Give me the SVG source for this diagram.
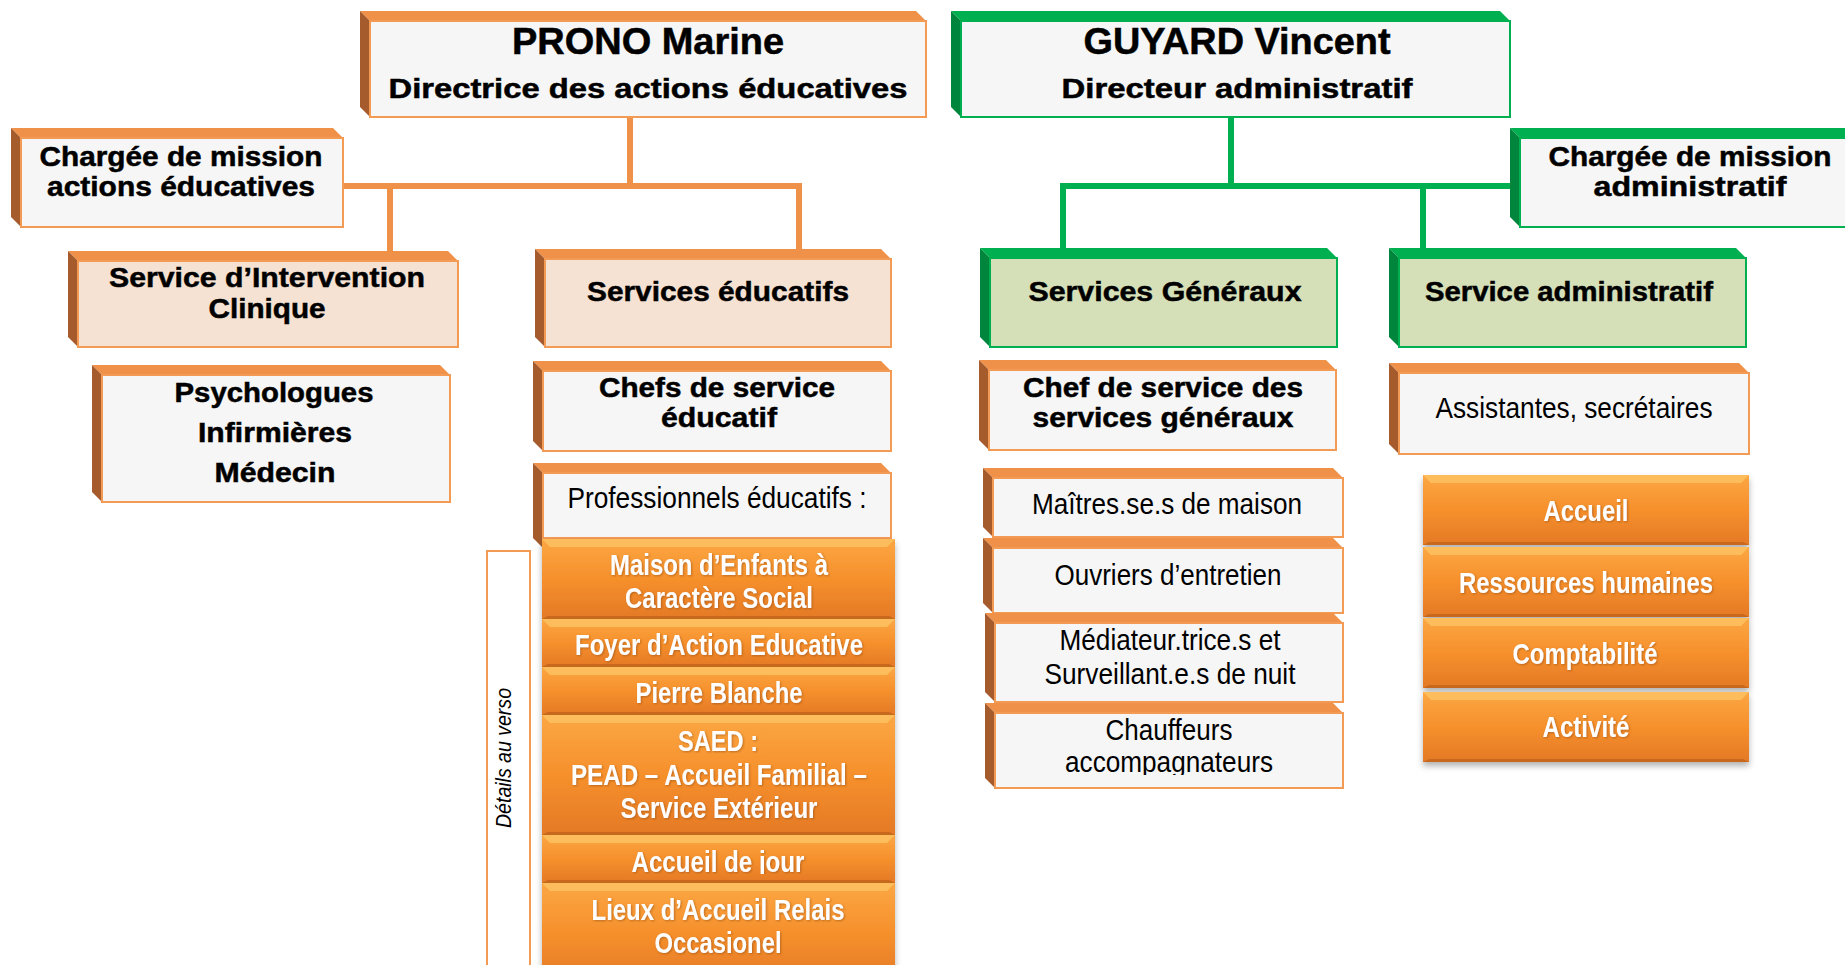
<svg xmlns="http://www.w3.org/2000/svg" width="1845" height="965" viewBox="0 0 1845 965">
<defs>
<style>
.bo{fill:#f0914a}.so{fill:#a55b2b}
.bg{fill:#00b050}.sg{fill:#00853d}
.f{fill:#f6f6f6;stroke:#f39a55;stroke-width:2}
.fp{fill:#f5e2d2;stroke:#f39a55;stroke-width:2}
.fg{fill:#d5dfb8;stroke:#00b050;stroke-width:2}
.fw{fill:#f6f6f6;stroke:#00b050;stroke-width:2}
.tb{font-family:"Liberation Sans",Arial,sans-serif;font-weight:bold;fill:#000;stroke:#000;stroke-width:0.5;text-anchor:middle;font-size:28px}
.th{font-size:36px}
.tn{font-family:"Liberation Sans Narrow","Arial Narrow","Liberation Sans",sans-serif;fill:#000;text-anchor:middle;font-size:30px}
.tw{font-family:"Liberation Sans Narrow","Arial Narrow","Liberation Sans",sans-serif;font-weight:bold;fill:#fff;text-anchor:middle;font-size:30px;filter:url(#ts)}
.btn{fill:url(#og)}
.bev{fill:#fdbd5c}
.bevd{fill:#c8671f}
.co{fill:none;stroke:#f0914a;stroke-width:6}
.cg{fill:none;stroke:#00b050;stroke-width:6}
</style>
<linearGradient id="og" x1="0" y1="0" x2="0" y2="1">
<stop offset="0" stop-color="#fba743"/>
<stop offset="0.5" stop-color="#f6902c"/>
<stop offset="1" stop-color="#e47926"/>
</linearGradient>
<filter id="ts" x="-10%" y="-30%" width="120%" height="160%">
<feDropShadow dx="1" dy="1" stdDeviation="0.8" flood-color="#8a4a10" flood-opacity="0.55"/>
</filter>
<filter id="sh" x="-5%" y="-5%" width="110%" height="115%">
<feDropShadow dx="0" dy="4" stdDeviation="3" flood-color="#000" flood-opacity="0.3"/>
</filter>
<clipPath id="clipChauf"><rect x="990" y="700" width="360" height="75"/></clipPath>
<clipPath id="clipJour"><rect x="540" y="835" width="360" height="39"/></clipPath>
</defs>
<rect width="1845" height="965" fill="#fff"/>

<g id="connectors">
<path class="co" d="M630 117V186M343 186H802M390 186V251M799 186V249"/>
<path class="cg" d="M1231 117V186M1060 186H1512M1063 186V248M1423 186V248"/>
</g>

<g id="n-prono">
<polygon class="bo" points="370,21 926,21 916,11 360,11"/>
<polygon class="so" points="370,21 360,11 360,107 370,117"/>
<rect class="f" x="370" y="21" width="556" height="96"/>
<text class="tb th" x="648" y="54" textLength="272" lengthAdjust="spacingAndGlyphs">PRONO Marine</text>
<text class="tb" x="648" y="98" textLength="519" lengthAdjust="spacingAndGlyphs">Directrice des actions éducatives</text>
</g>

<g id="n-guyard">
<polygon class="bg" points="961,21 1510,21 1500,11 951,11"/>
<polygon class="sg" points="961,21 951,11 951,107 961,117"/>
<rect class="fw" x="961" y="21" width="549" height="96"/>
<text class="tb th" x="1237" y="54" textLength="307" lengthAdjust="spacingAndGlyphs">GUYARD Vincent</text>
<text class="tb" x="1237" y="98" textLength="351" lengthAdjust="spacingAndGlyphs">Directeur administratif</text>
</g>

<g id="n-cm-educ">
<polygon class="bo" points="21,138 343,138 333,128 11,128"/>
<polygon class="so" points="21,138 11,128 11,217 21,227"/>
<rect class="f" x="21" y="138" width="322" height="89"/>
<text class="tb" x="181" y="166" textLength="283" lengthAdjust="spacingAndGlyphs">Chargée de mission</text>
<text class="tb" x="181" y="196" textLength="268" lengthAdjust="spacingAndGlyphs">actions éducatives</text>
</g>

<g id="n-cm-admin">
<polygon class="bg" points="1520,138 1860,138 1850,128 1510,128"/>
<polygon class="sg" points="1520,138 1510,128 1510,217 1520,227"/>
<rect class="fw" x="1520" y="138" width="340" height="89"/>
<text class="tb" x="1690" y="166" textLength="283" lengthAdjust="spacingAndGlyphs">Chargée de mission</text>
<text class="tb" x="1690" y="196" textLength="193" lengthAdjust="spacingAndGlyphs">administratif</text>
</g>

<g id="n-sic">
<polygon class="bo" points="78,261 458,261 448,251 68,251"/>
<polygon class="so" points="78,261 68,251 68,337 78,347"/>
<rect class="fp" x="78" y="261" width="380" height="86"/>
<text class="tb" x="267" y="287" textLength="316" lengthAdjust="spacingAndGlyphs">Service d’Intervention</text>
<text class="tb" x="267" y="318" textLength="117" lengthAdjust="spacingAndGlyphs">Clinique</text>
</g>

<g id="n-se">
<polygon class="bo" points="545,259 891,259 881,249 535,249"/>
<polygon class="so" points="545,259 535,249 535,337 545,347"/>
<rect class="fp" x="545" y="259" width="346" height="88"/>
<text class="tb" x="718" y="301" textLength="262" lengthAdjust="spacingAndGlyphs">Services éducatifs</text>
</g>

<g id="n-sg">
<polygon class="bg" points="990,258 1337,258 1327,248 980,248"/>
<polygon class="sg" points="990,258 980,248 980,337 990,347"/>
<rect class="fg" x="990" y="258" width="347" height="89"/>
<text class="tb" x="1165" y="301" textLength="273" lengthAdjust="spacingAndGlyphs">Services Généraux</text>
</g>

<g id="n-sa">
<polygon class="bg" points="1399,258 1746,258 1736,248 1389,248"/>
<polygon class="sg" points="1399,258 1389,248 1389,337 1399,347"/>
<rect class="fg" x="1399" y="258" width="347" height="89"/>
<text class="tb" x="1569" y="301" textLength="288" lengthAdjust="spacingAndGlyphs">Service administratif</text>
</g>

<g id="n-psy">
<polygon class="bo" points="102,375 450,375 440,365 92,365"/>
<polygon class="so" points="102,375 92,365 92,492 102,502"/>
<rect class="f" x="102" y="375" width="348" height="127"/>
<text class="tb" x="274" y="402" textLength="199" lengthAdjust="spacingAndGlyphs">Psychologues</text>
<text class="tb" x="275" y="442" textLength="154" lengthAdjust="spacingAndGlyphs">Infirmières</text>
<text class="tb" x="275" y="482" textLength="121" lengthAdjust="spacingAndGlyphs">Médecin</text>
</g>

<g id="n-chefs-educ">
<polygon class="bo" points="543,371 891,371 881,361 533,361"/>
<polygon class="so" points="543,371 533,361 533,441 543,451"/>
<rect class="f" x="543" y="371" width="348" height="80"/>
<text class="tb" x="717" y="397" textLength="236" lengthAdjust="spacingAndGlyphs">Chefs de service</text>
<text class="tb" x="719" y="427" textLength="116" lengthAdjust="spacingAndGlyphs">éducatif</text>
</g>

<g id="n-prof">
<polygon class="bo" points="543,473 891,473 881,463 533,463"/>
<polygon class="so" points="543,473 533,463 533,538 543,548"/>
<rect class="f" x="543" y="473" width="348" height="65"/>
<text class="tn" x="717" y="508" textLength="299" lengthAdjust="spacingAndGlyphs">Professionnels éducatifs :</text>
</g>

<g id="n-chefs-sg">
<polygon class="bo" points="989,370 1336,370 1326,360 979,360"/>
<polygon class="so" points="989,370 979,360 979,440 989,450"/>
<rect class="f" x="989" y="370" width="347" height="80"/>
<text class="tb" x="1163" y="397" textLength="280" lengthAdjust="spacingAndGlyphs">Chef de service des</text>
<text class="tb" x="1163" y="427" textLength="261" lengthAdjust="spacingAndGlyphs">services généraux</text>
</g>

<g id="n-assist">
<polygon class="bo" points="1399,373 1749,373 1739,363 1389,363"/>
<polygon class="so" points="1399,373 1389,363 1389,444 1399,454"/>
<rect class="f" x="1399" y="373" width="350" height="81"/>
<text class="tn" x="1574" y="418" textLength="277" lengthAdjust="spacingAndGlyphs">Assistantes, secrétaires</text>
</g>

<g id="n-maitres">
<polygon class="bo" points="993,478 1343,478 1333,468 983,468"/>
<polygon class="so" points="993,478 983,468 983,527 993,537"/>
<rect class="f" x="993" y="478" width="350" height="59"/>
<text class="tn" x="1167" y="514" textLength="270" lengthAdjust="spacingAndGlyphs">Maîtres.se.s de maison</text>
</g>

<g id="n-ouvriers">
<polygon class="bo" points="993,548 1343,548 1333,538 983,538"/>
<polygon class="so" points="993,548 983,538 983,603 993,613"/>
<rect class="f" x="993" y="548" width="350" height="65"/>
<text class="tn" x="1168" y="585" textLength="227" lengthAdjust="spacingAndGlyphs">Ouvriers d’entretien</text>
</g>

<g id="n-mediateur">
<polygon class="bo" points="995,623 1343,623 1333,613 985,613"/>
<polygon class="so" points="995,623 985,613 985,692 995,702"/>
<rect class="f" x="995" y="623" width="348" height="79"/>
<text class="tn" x="1170" y="650" textLength="221" lengthAdjust="spacingAndGlyphs">Médiateur.trice.s et</text>
<text class="tn" x="1170" y="684" textLength="251" lengthAdjust="spacingAndGlyphs">Surveillant.e.s de nuit</text>
</g>

<g id="n-chauffeurs">
<polygon class="bo" points="995,713 1343,713 1333,703 985,703"/>
<polygon class="so" points="995,713 985,703 985,778 995,788"/>
<rect class="f" x="995" y="713" width="348" height="75"/>
<g clip-path="url(#clipChauf)">
<text class="tn" x="1169" y="740" textLength="127" lengthAdjust="spacingAndGlyphs">Chauffeurs</text>
<text class="tn" x="1169" y="772" textLength="208" lengthAdjust="spacingAndGlyphs">accompagnateurs</text>
</g>
</g>

<g id="n-details">
<rect x="487" y="551" width="43" height="430" fill="#fff" stroke="#f39a55" stroke-width="2"/>
<text class="tn" transform="translate(511,758) rotate(-90)" font-style="italic" textLength="140" lengthAdjust="spacingAndGlyphs" style="font-size:22px">Détails au verso</text>
</g>

<g id="n-stack-educ" filter="url(#sh)">
<g id="n-mecs">
<rect class="btn" x="542" y="539" width="353" height="80"/>
<polygon class="bev" points="542,539 895,539 887,547 550,547"/>
<polygon class="bevd" points="542,619 895,619 889,616 548,616"/>
<text class="tw" x="719" y="575" textLength="218" lengthAdjust="spacingAndGlyphs">Maison d’Enfants à</text>
<text class="tw" x="719" y="608" textLength="188" lengthAdjust="spacingAndGlyphs">Caractère Social</text>
</g>
<g id="n-fae">
<rect class="btn" x="542" y="619" width="353" height="48"/>
<polygon class="bev" points="542,619 895,619 887,627 550,627"/>
<polygon class="bevd" points="542,667 895,667 889,664 548,664"/>
<text class="tw" x="719" y="655" textLength="288" lengthAdjust="spacingAndGlyphs">Foyer d’Action Educative</text>
</g>
<g id="n-pb">
<rect class="btn" x="542" y="667" width="353" height="48"/>
<polygon class="bev" points="542,667 895,667 887,675 550,675"/>
<polygon class="bevd" points="542,715 895,715 889,712 548,712"/>
<text class="tw" x="719" y="703" textLength="167" lengthAdjust="spacingAndGlyphs">Pierre Blanche</text>
</g>
<g id="n-saed">
<rect class="btn" x="542" y="715" width="353" height="120"/>
<polygon class="bev" points="542,715 895,715 887,723 550,723"/>
<polygon class="bevd" points="542,835 895,835 889,832 548,832"/>
<text class="tw" x="718" y="751" textLength="80" lengthAdjust="spacingAndGlyphs">SAED :</text>
<text class="tw" x="719" y="785" textLength="296" lengthAdjust="spacingAndGlyphs">PEAD – Accueil Familial –</text>
<text class="tw" x="719" y="818" textLength="197" lengthAdjust="spacingAndGlyphs">Service Extérieur</text>
</g>
<g id="n-jour">
<rect class="btn" x="542" y="835" width="353" height="48"/>
<polygon class="bev" points="542,835 895,835 887,843 550,843"/>
<polygon class="bevd" points="542,883 895,883 889,880 548,880"/>
<g clip-path="url(#clipJour)">
<text class="tw" x="718" y="872" textLength="173" lengthAdjust="spacingAndGlyphs">Accueil de jour</text>
</g>
</g>
<g id="n-laro">
<rect class="btn" x="542" y="883" width="353" height="100"/>
<polygon class="bev" points="542,883 895,883 887,891 550,891"/>
<text class="tw" x="718" y="920" textLength="253" lengthAdjust="spacingAndGlyphs">Lieux d’Accueil Relais</text>
<text class="tw" x="718" y="953" textLength="127" lengthAdjust="spacingAndGlyphs">Occasionel</text>
</g>
</g>

<g id="n-stack-admin" filter="url(#sh)">
<g id="n-accueil">
<rect class="btn" x="1423" y="475" width="326" height="70"/>
<polygon class="bev" points="1423,475 1749,475 1741,483 1431,483"/>
<polygon class="bevd" points="1423,545 1749,545 1743,542 1429,542"/>
<text class="tw" x="1586" y="521" textLength="85" lengthAdjust="spacingAndGlyphs">Accueil</text>
</g>
<g id="n-rh">
<rect class="btn" x="1423" y="547" width="326" height="70"/>
<polygon class="bev" points="1423,547 1749,547 1741,555 1431,555"/>
<polygon class="bevd" points="1423,617 1749,617 1743,614 1429,614"/>
<text class="tw" x="1586" y="593" textLength="254" lengthAdjust="spacingAndGlyphs">Ressources humaines</text>
</g>
<g id="n-compta">
<rect class="btn" x="1423" y="618" width="326" height="70"/>
<polygon class="bev" points="1423,618 1749,618 1741,626 1431,626"/>
<polygon class="bevd" points="1423,688 1749,688 1743,685 1429,685"/>
<text class="tw" x="1585" y="664" textLength="145" lengthAdjust="spacingAndGlyphs">Comptabilité</text>
</g>
<g id="n-activite">
<rect class="btn" x="1423" y="692" width="326" height="70"/>
<polygon class="bev" points="1423,692 1749,692 1741,700 1431,700"/>
<polygon class="bevd" points="1423,762 1749,762 1743,759 1429,759"/>
<text class="tw" x="1586" y="737" textLength="87" lengthAdjust="spacingAndGlyphs">Activité</text>
</g>
</g>
</svg>
